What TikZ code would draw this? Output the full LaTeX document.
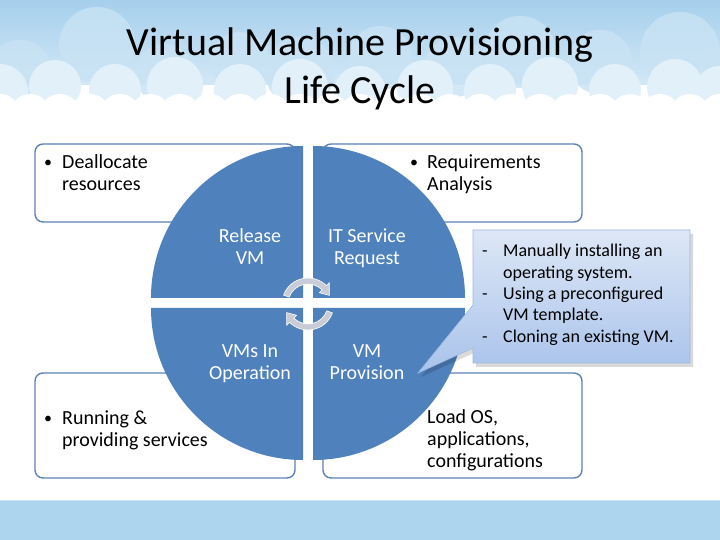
\documentclass[tikz,border=0pt]{standalone}
\usepackage{fontspec}
\setmainfont{Carlito}
\usetikzlibrary{calc}
\definecolor{quadblue}{HTML}{4F81BD}
\definecolor{boxline}{HTML}{5B82B5}
\definecolor{skytop}{HTML}{A6CFEC}
\definecolor{skylow}{HTML}{D2E8F6}
\definecolor{cloudA}{HTML}{C9E3F4}
\definecolor{cloudB}{HTML}{E2F0FA}
\definecolor{band}{HTML}{ADD5ED}
\definecolor{bandedge}{HTML}{CDE6F4}
\definecolor{calltop}{HTML}{DDE7F6}
\definecolor{callbot}{HTML}{A9C3EB}
\definecolor{callline}{HTML}{9DB9E2}
\definecolor{cycarrow}{HTML}{C9CCD6}
\tikzset{
  outerbox/.style={draw=boxline, line width=1.4pt, fill=white, rounded corners=8pt},
  quad/.style={fill=quadblue},
  boxtext/.style={font=\fontsize{20}{22}\selectfont, align=left, inner sep=0pt, anchor=north west, text=black},
  quadtext/.style={font=\fontsize{20}{22}\selectfont, align=center, inner sep=0pt, anchor=north, text=white},
  calltext/.style={font=\fontsize{18}{21.3}\selectfont, align=left, inner sep=0pt, anchor=north west, text=black},
  cyc/.style={fill=cycarrow, draw=white, line width=0.6pt},
}
\newcommand{\bul}[1]{\makebox[#1][l]{\fontsize{16}{22}\selectfont\raisebox{0.5pt}{•}}}
\begin{document}
\begin{tikzpicture}[x=1pt,y=1pt]
\useasboundingbox (0,0) rectangle (720,540);
% background
\fill[white] (0,0) rectangle (720,540);
\shade[top color=skytop, bottom color=skylow] (0,540) rectangle (720,455);
\foreach \x/\y/\r in {20/72/32,97/45/38,165/74/30,240/62/30,300/72/35,380/58/32,455/67/30,520/52/36,600/62/32,680/52/40,725/75/30}
  \fill[cloudA, opacity=0.8] (\x,{540-\y}) circle (\r);
\foreach \x/\y/\r in {0/92/28,55/86/26,115/90/26,175/85/28,240/90/26,300/87/28,360/92/26,425/88/28,490/90/26,550/85/28,615/90/26,675/87/28,720/92/26}
  \fill[cloudB] (\x,{540-\y}) circle (\r);
\foreach \x in {0,30,...,750}
  \fill[white] (\x,{540-114}) circle (20);
\fill[white] (0,40) rectangle (720,428);
% bottom band
\fill[band] (0,0) rectangle (720,39);
\fill[bandedge] (0,38.5) rectangle (720,40);
% title
\node[font=\fontsize{40}{48}\selectfont, align=center, inner sep=0pt, anchor=north] (title) at (360,518.6) {\strut Virtual Machine Provisioning\\Life Cycle};
% outer boxes
\draw[outerbox] (35,396) rectangle (295,318);
\draw[outerbox] (323,396) rectangle (582,318);
\draw[outerbox] (35,167) rectangle (295,62);
\draw[outerbox] (323,167) rectangle (582,62);
% quadrants
\fill[quad] (303,242) -- (151,242) arc[start angle=180, end angle=90, radius=152] -- cycle;
\fill[quad] (313,242) -- (313,394) arc[start angle=90, end angle=0, radius=152] -- cycle;
\fill[quad] (303,232) -- (151,232) arc[start angle=180, end angle=270, radius=152] -- cycle;
\fill[quad] (313,232) -- (465,232) arc[start angle=0, end angle=-90, radius=152] -- cycle;
% box texts
\node[boxtext] (tltext) at (44,387.4) {\strut\bul{18pt}Deallocate\\\hspace*{18pt}resources};
\node[boxtext] (trtext) at (410,387.4) {\strut\bul{17pt}Requirements\\\hspace*{17pt}Analysis};
\node[boxtext] (bltext) at (44,131.4) {\strut\bul{18pt}Running \&\\\hspace*{18pt}providing services};
\node[boxtext] (brtext) at (427,131.9) {\strut Load OS,\\applications,\\configurations};
% quadrant labels
\node[quadtext] (q1) at (250,313.4) {\strut Release\\VM};
\node[quadtext] (q2) at (367,313.4) {\strut IT Service\\Request};
\node[quadtext] (q3) at (250,198.4) {\strut VMs In\\Operation};
\node[quadtext] (q4) at (367,198.4) {\strut VM\\Provision};
% cycle arrows
\coordinate (c) at (308,236);
\path[cyc] ($(c)+(160:26)$) arc[start angle=160, end angle=45, radius=26] -- ($(c)+(45:30)$) -- ($(c)+(22:23)$) -- ($(c)+(45:16)$) -- ($(c)+(45:20)$) arc[start angle=45, end angle=160, radius=20] -- cycle;
\path[cyc] ($(c)+(-20:26)$) arc[start angle=-20, end angle=-135, radius=26] -- ($(c)+(-135:30)$) -- ($(c)+(-158:23)$) -- ($(c)+(-135:16)$) -- ($(c)+(-135:20)$) arc[start angle=-135, end angle=-20, radius=20] -- cycle;
% callout
\fill[black, opacity=0.15] (476,306) -- (693,306) -- (693,173) -- (476,173) -- (476,188) -- (421,163) -- (476,231) -- cycle;
\shade[top color=calltop, bottom color=callbot, draw=callline, line width=0.6pt] (473,310) -- (690,310) -- (690,177) -- (473,177) -- (473,192) -- (418,167) -- (473,235) -- cycle;
\node[calltext] (calltxt) at (482,298.2) {\strut\makebox[21pt][l]{-}Manually installing an\\\hspace*{21pt}operating system.\\\makebox[21pt][l]{-}Using a preconfigured\\\hspace*{21pt}VM template.\\\makebox[21pt][l]{-}Cloning an existing VM.};
\end{tikzpicture}
\end{document}
